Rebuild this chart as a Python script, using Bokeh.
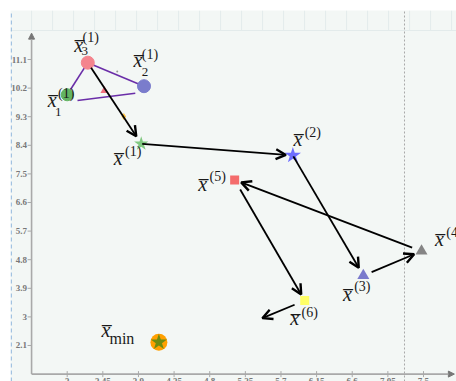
import numpy as np
from bokeh.plotting import figure
from bokeh.models import Arrow, OpenHead, NormalHead
from bokeh.core.properties import value
from bokeh.embed import file_html
from bokeh.resources import INLINE

# ---- data: Nelder-Mead style iterates on a 2-D objective ----
simplex_x = [3.00, 3.97, 3.26]          # x1, x2, x3 of the first simplex
simplex_y = [9.99, 10.26, 11.00]
simplex_colors = ["#62b462", "#7a7ccc", "#f4858e"]
base_x = [3.13, 3.86]                   # lower edge of the simplex
base_y = [9.81, 10.04]
reflect_x, reflect_y = [3.47], [10.12]
contract_x, contract_y = [3.715], [9.31]
probe_x, probe_y = [3.632], [10.72]

# search path: start vertex, then x(1) ... x(6) and the next step direction
path_x = [3.26, 3.935, 5.85, 6.74, 7.475, 5.115, 6.00, 5.465]
path_y = [11.00, 8.447, 8.08, 4.30, 5.07, 7.31, 3.516, 2.96]
iter_labels = ["(1)", "(2)", "(3)", "(4)", "(5)", "(6)"]

xmin_x, xmin_y = [4.158], [2.204]

xticks = [3, 3.45, 3.9, 4.35, 4.8, 5.25, 5.7, 6.15, 6.6, 7.05, 7.5]
yticks = [2.1, 3, 3.9, 4.8, 5.7, 6.6, 7.5, 8.4, 9.3, 10.2, 11.1]
xtick_labels = ["3", "3.45", "3.9", "4.35", "4.8", "5.25", "5.7", "6.15", "6.6", "7.05", "7.5"]
ytick_labels = ["2.1", "3", "3.9", "4.8", "5.7", "6.6", "7.5", "8.4", "9.3", "10.2", "11.1"]
x_origin, y_origin = 2.55, 1.2
x_axis_end, y_axis_end = 7.89, 11.93
guide_x = 7.26

# ---- layout ----
W, H = 456, 381
LEFT, TOP = 10, 10
fw, fh = W - LEFT, H - TOP
x_lo, x_hi = 2.2839, 7.9169
y_lo, y_hi = 0.967, 12.642
xpp = (x_hi - x_lo) / fw     # data units per pixel
ypp = (y_hi - y_lo) / fh

p = figure(width=W, height=H, x_range=(x_lo, x_hi), y_range=(y_lo, y_hi),
           output_backend="svg", toolbar_location=None,
           min_border_left=LEFT, min_border_top=TOP, min_border_right=0, min_border_bottom=0,
           background_fill_color="#f3f7f5", border_fill_color="white")
p.outline_line_color = None
p.axis.visible = False
p.grid.visible = False

SERIF = value("Liberation Serif")

def at(x, y, dx, dy):
    """shift a data point by a pixel offset (dy positive = downwards)"""
    return x + dx * xpp, y - dy * ypp

# faint header grid
gx = np.arange(x_origin, x_hi, 21 * xpp)
p.segment(x0=gx, y0=[y_hi] * len(gx), x1=gx, y1=[y_hi - 20 * ypp] * len(gx),
          line_color="#e3ebeb", line_width=1)
p.segment(x0=[x_lo], y0=[y_hi - 20 * ypp], x1=[x_hi], y1=[y_hi - 20 * ypp],
          line_color="#e3ebeb", line_width=1)

# left dashed border and dotted guide
p.segment(x0=[x_lo + 0.8 * xpp], y0=[y_lo], x1=[x_lo + 0.8 * xpp], y1=[y_hi],
          line_color="#9dbfe0", line_dash="4 3", line_width=1.3)
p.segment(x0=[guide_x], y0=[y_lo], x1=[guide_x], y1=[y_hi],
          line_color="#a8a8a8", line_dash="2 2", line_width=1)

# axes with arrow tips
AX = "#a9a9a9"
p.add_layout(Arrow(x_start=x_origin, y_start=y_origin, x_end=x_axis_end, y_end=y_origin,
                   line_color=AX, line_width=1.6,
                   end=NormalHead(size=6, fill_color="#777", line_color="#777")))
p.add_layout(Arrow(x_start=x_origin, y_start=y_origin, x_end=x_origin, y_end=y_axis_end,
                   line_color=AX, line_width=1.6,
                   end=NormalHead(size=6, fill_color="#777", line_color="#777")))

# ticks and tick labels
TICK_FONT = value("Liberation Serif")
p.segment(x0=[x_origin - 4 * xpp] * len(yticks), y0=yticks,
          x1=[x_origin] * len(yticks), y1=yticks, line_color=AX, line_width=1)
p.text(x=[x_origin - 4.5 * xpp] * len(yticks), y=yticks, text=ytick_labels,
       text_font=TICK_FONT, text_font_size="9px", text_color="#787878",
       text_align="right", text_baseline="middle", text_font_style="bold")
p.segment(x0=xticks, y0=[y_origin - 3 * ypp] * len(xticks),
          x1=xticks, y1=[y_origin + 3 * ypp] * len(xticks), line_color=AX, line_width=1)
p.text(x=xticks, y=[y_origin - 4 * ypp] * len(xticks), text=xtick_labels,
       text_font=TICK_FONT, text_font_size="9px", text_color="#787878",
       text_align="center", text_baseline="top", text_font_style="bold")

# simplex edges
p.segment(x0=[simplex_x[2], simplex_x[2], base_x[0]], y0=[simplex_y[2], simplex_y[2], base_y[0]],
          x1=[simplex_x[0], simplex_x[1], base_x[1]], y1=[simplex_y[0], simplex_y[1], base_y[1]],
          line_color="#6a2ea8", line_width=1.6)

# search path arrows, trimmed in pixels so they stop short of the markers
start_gap = [6, 1, 1, 9, 10, 11, 11]
end_gap = [9, 7, 9, 8, 7, 7, 0]
for i in range(len(path_x) - 1):
    vx = (path_x[i + 1] - path_x[i]) / xpp
    vy = (path_y[i + 1] - path_y[i]) / ypp
    L = np.hypot(vx, vy)
    ux, uy = vx / L, vy / L
    xs = path_x[i] + ux * start_gap[i] * xpp
    ys = path_y[i] + uy * start_gap[i] * ypp
    xe = path_x[i + 1] - ux * end_gap[i] * xpp
    ye = path_y[i + 1] - uy * end_gap[i] * ypp
    p.add_layout(Arrow(x_start=xs, y_start=ys, x_end=xe, y_end=ye,
                       line_color="black", line_width=1.8,
                       end=OpenHead(size=10, line_width=2.4, line_color="black")))

# simplex vertices and trial points
p.scatter(simplex_x, simplex_y, size=[12, 13, 13], marker="circle",
          fill_color=simplex_colors, line_color=simplex_colors)
p.scatter(reflect_x, reflect_y, size=8, marker="triangle", fill_color="#f0707e", line_color=None)
p.scatter(contract_x, contract_y, size=7, marker="diamond", fill_color="#ffc444", line_color=None)
p.scatter(probe_x, probe_y, size=2, marker="circle", fill_color="#999", line_color=None)

# iterates
it_x, it_y = path_x[1:7], path_y[1:7]
it_marker = ["star", "star", "triangle", "triangle", "square", "square"]
it_color = ["#80c880", "#6e6eff", "#7a7acc", "#858585", "#f46c6c", "#ffff66"]
it_size = [15, 17, 12, 12, 9, 9]
p.scatter(it_x, it_y, marker=it_marker, size=it_size, fill_color=it_color, line_color=None)

# minimiser
p.scatter(xmin_x, xmin_y, marker="circle", size=17, fill_color="#ffa000", line_color=None)
p.scatter(xmin_x, xmin_y, marker="star", size=17, fill_color="#6f8c10", line_color=None)

# ---- math-style labels ----
def label(x, y, dx, dy, txt, size, style="normal"):
    lx, ly = at(x, y, dx, dy)
    p.text(x=[lx], y=[ly], text=[txt], text_font=SERIF, text_font_size=size,
           text_font_style=style, text_color="#1a1a1a",
           text_align="center", text_baseline="middle")

XBAR = "x\u0305"
MAIN, SUP, SUB = "20px", "14px", "13px"

# simplex vertex labels: (vertex index, main offset, sup offset, subscript, sub offset)
vertex_lbl = [
    (0, (-15, 5), (-1, -1), "1", (-9, 17)),
    (1, (-6, -26), (6, -32), "2", (1, -14)),
    (2, (-9, -18), (3, -25), "3", (-3, -12)),
]
for k, (mdx, mdy), (sdx, sdy), sub, (bdx, bdy) in vertex_lbl:
    label(simplex_x[k], simplex_y[k], mdx, mdy, XBAR, MAIN, "italic")
    label(simplex_x[k], simplex_y[k], sdx, sdy, "(1)", SUP)
    label(simplex_x[k], simplex_y[k], bdx, bdy, sub, SUB)

# iterate labels: main offset, superscript offset
iter_off = [((-23, 14), (-8, 8)),
            ((5, -16), (20, -23)),
            ((-16, 18), (-1, 11)),
            ((18, -12), (33, -19)),
            ((-32, 4), (-17, -3)),
            ((-10, 18), (5, 12))]
for k, ((mdx, mdy), (sdx, sdy)) in enumerate(iter_off):
    label(it_x[k], it_y[k], mdx, mdy, XBAR, MAIN, "italic")
    label(it_x[k], it_y[k], sdx, sdy, iter_labels[k], SUP)

label(xmin_x[0], xmin_y[0], -53, -12, XBAR, MAIN, "italic")
label(xmin_x[0], xmin_y[0], -37, -4, "min", "16px")

open("out.html", "w").write(file_html(p, INLINE))
